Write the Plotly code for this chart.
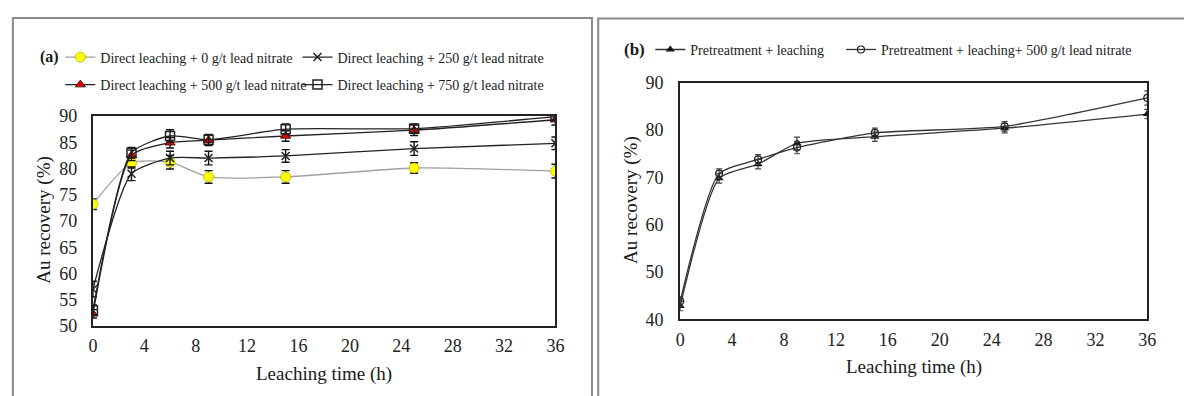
import plotly.graph_objects as go

W, H = 1184, 396

# ---------------- data ----------------
time_h = [0, 3, 6, 9, 15, 25, 36]
x_ticks = [0, 4, 8, 12, 16, 20, 24, 28, 32, 36]

# panel (a)
direct_0 = [73.2, 81.1, 81.2, 78.4, 78.4, 80.1, 79.5]
direct_0_err = [1.0, 1.0, 1.3, 1.2, 1.2, 1.0, 1.3]
direct_250 = [57.0, 79.0, 82.0, 82.0, 82.4, 83.8, 84.8]
direct_250_err = [1.5, 1.3, 1.3, 1.3, 1.2, 1.3, 1.2]
direct_500 = [52.3, 82.5, 84.9, 85.4, 86.2, 87.3, 89.3]
direct_500_err = [0.8, 1.0, 1.0, 1.0, 1.0, 1.0, 1.0]
direct_750 = [53.0, 83.0, 86.2, 85.5, 87.5, 87.6, 89.9]
direct_750_err = [1.0, 1.0, 1.2, 1.0, 1.0, 0.9, 0.6]

# panel (b)
pre_leach = [42.8, 69.8, 72.8, 77.2, 78.6, 80.4, 83.4]
pre_leach_err = [1.0, 1.0, 1.0, 1.3, 1.0, 1.0, 1.0]
pre_leach_pb = [43.8, 70.8, 73.8, 76.3, 79.4, 80.8, 86.8]
pre_leach_pb_err = [1.0, 1.0, 1.0, 1.3, 1.0, 1.0, 1.5]

names_a = ["Direct leaching + 0 g/t lead nitrate",
           "Direct leaching + 250 g/t lead nitrate",
           "Direct leaching + 500 g/t lead nitrate",
           "Direct leaching + 750 g/t lead nitrate"]
names_b = ["Pretreatment + leaching",
           "Pretreatment + leaching+ 500 g/t lead nitrate"]

x_title = "Leaching time (h)"
y_title = "Au recovery (%)"

FONT = "Liberation Serif"
SMOOTH = 0.6

def px_x(p):
    return p / W

def px_y(p):
    return 1 - p / H

fig = go.Figure()

def err(vals, color="#111", width=4, thick=1.4):
    return dict(type="data", array=vals, visible=True, color=color, width=width, thickness=thick)

def sline(color):
    return dict(color=color, width=1.3, shape="spline", smoothing=SMOOTH)

# ---- panel (a) traces ----
fig.add_trace(go.Scatter(
    x=time_h, y=direct_0, name=names_a[0], mode="lines+markers",
    line=sline("#a0a0a0"),
    marker=dict(symbol="circle", size=10, color="#ffff00", line=dict(color="#b5b500", width=0.8)),
    error_y=err(direct_0_err), xaxis="x", yaxis="y", legend="legend"))
fig.add_trace(go.Scatter(
    x=time_h, y=direct_250, name=names_a[1], mode="lines+markers",
    line=sline("#222"),
    marker=dict(symbol="x-thin-open", size=8, color="#222", line=dict(color="#222", width=1.5)),
    error_y=err(direct_250_err), xaxis="x", yaxis="y", legend="legend2"))
fig.add_trace(go.Scatter(
    x=time_h, y=direct_500, name=names_a[2], mode="lines+markers",
    line=sline("#222"),
    marker=dict(symbol="triangle-up", size=9, color="#e00000", line=dict(color="#300", width=0.8)),
    error_y=err(direct_500_err), xaxis="x", yaxis="y", legend="legend3"))
fig.add_trace(go.Scatter(
    x=time_h, y=direct_750, name=names_a[3], mode="lines+markers",
    line=sline("#222"),
    marker=dict(symbol="square-open", size=9, color="#222", line=dict(color="#222", width=1.5)),
    error_y=err(direct_750_err), xaxis="x", yaxis="y", legend="legend4"))

# ---- panel (b) traces ----
fig.add_trace(go.Scatter(
    x=time_h, y=pre_leach, name=names_b[0], mode="lines+markers",
    line=sline("#333"),
    marker=dict(symbol="triangle-up", size=8, color="#111"),
    error_y=err(pre_leach_err, color="#444", width=3, thick=1.2),
    xaxis="x2", yaxis="y2", legend="legend5"))
fig.add_trace(go.Scatter(
    x=time_h, y=pre_leach_pb, name=names_b[1], mode="lines+markers",
    line=sline("#333"),
    marker=dict(symbol="circle-open", size=7, color="#222", line=dict(color="#222", width=1.2)),
    error_y=err(pre_leach_pb_err, color="#444", width=3, thick=1.2),
    xaxis="x2", yaxis="y2", legend="legend6"))

# ---- axes ----
tickfont = dict(family=FONT, size=18, color="#222")
axis_common = dict(showline=True, mirror=True, linecolor="#222", linewidth=2,
                   showgrid=False, zeroline=False, ticks="", tickfont=tickfont)

xa_dom = [px_x(89), px_x(557)]
ya_dom = [px_y(332.7), px_y(111.7)]
xb_dom = [px_x(683.3), px_x(1156)]
yb_dom = [px_y(325.7), px_y(76.7)]

legend_common = dict(font=dict(family=FONT, size=14, color="#222"), bgcolor="rgba(0,0,0,0)",
                     borderwidth=0, xanchor="left", yanchor="middle", orientation="h")

def text_ann(text, x, y, size, angle=0, bold=False):
    return dict(text=("<b>%s</b>" % text) if bold else text, x=px_x(x), y=px_y(y),
                xref="paper", yref="paper", showarrow=False, textangle=angle,
                font=dict(family=FONT, size=size, color="#1a1a1a"),
                xanchor="center", yanchor="middle")

fig.update_layout(
    width=W, height=H, margin=dict(l=0, r=0, t=0, b=0),
    paper_bgcolor="white", plot_bgcolor="white",
    font=dict(family=FONT, color="#222"),
    showlegend=True,
    xaxis=dict(domain=xa_dom, range=[0, 36], tickvals=x_ticks, anchor="y",
               ticklabelstandoff=3, **axis_common),
    yaxis=dict(domain=ya_dom, range=[50, 90], dtick=5, anchor="x",
               ticklabelstandoff=10, **axis_common),
    xaxis2=dict(domain=xb_dom, range=[0, 36], tickvals=x_ticks, anchor="y2",
                ticklabelstandoff=3, **axis_common),
    yaxis2=dict(domain=yb_dom, range=[40, 90], dtick=10, anchor="x2",
                ticklabelstandoff=11, **axis_common),
    legend=dict(x=px_x(56), y=px_y(50), **legend_common),
    legend2=dict(x=px_x(296), y=px_y(50), **legend_common),
    legend3=dict(x=px_x(56), y=px_y(79), **legend_common),
    legend4=dict(x=px_x(296), y=px_y(79), **legend_common),
    legend5=dict(x=px_x(653), y=px_y(42), **legend_common),
    legend6=dict(x=px_x(846), y=px_y(42), **legend_common),
    annotations=[
        text_ann("(a)", 45.5, 50, 16, bold=True),
        text_ann("(b)", 637.5, 42, 17, bold=True),
        text_ann(x_title, (89 + 557) / 2, 383, 19),
        text_ann(x_title, (683.3 + 1156) / 2, 375.5, 19),
        text_ann(y_title, 40, 221.5, 19, angle=-90),
        text_ann(y_title, 634, 200.5, 19, angle=-90),
    ],
    shapes=[
        dict(type="rect", xref="paper", yref="paper", x0=px_x(8), x1=px_x(594),
             y0=px_y(420), y1=px_y(8.5), line=dict(color="#8a8a8a", width=2), layer="below"),
        dict(type="rect", xref="paper", yref="paper", x0=px_x(600.3), x1=px_x(1200),
             y0=px_y(420), y1=px_y(9), line=dict(color="#8a8a8a", width=2), layer="below"),
    ],
)

fig.write_html("out.html")
